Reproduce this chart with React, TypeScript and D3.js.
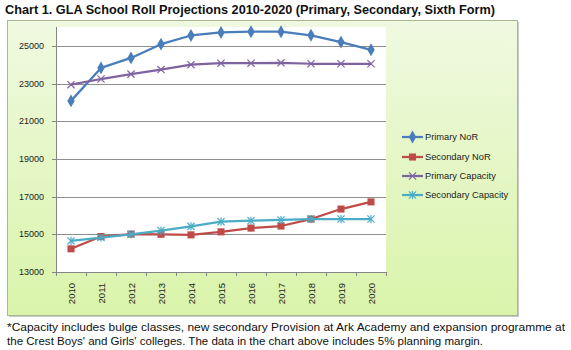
import React from 'react';
import * as d3 from 'd3';

const YEARS = ['2010', '2011', '2012', '2013', '2014', '2015', '2016', '2017', '2018', '2019', '2020'];
const PRIMARY_NOR = [22080, 23830, 24360, 25090, 25550, 25710, 25750, 25750, 25560, 25200, 24790];
const SECONDARY_NOR = [14230, 14880, 15010, 15000, 14970, 15130, 15330, 15440, 15810, 16340, 16720];
const PRIMARY_CAP = [22940, 23240, 23500, 23740, 24000, 24080, 24080, 24100, 24050, 24050, 24050];
const SECONDARY_CAP = [14650, 14830, 15000, 15200, 15420, 15670, 15720, 15760, 15810, 15810, 15810];
const Y_TICKS = [13000, 15000, 17000, 19000, 21000, 23000, 25000];

const TITLE = 'Chart 1. GLA School Roll Projections 2010-2020 (Primary, Secondary, Sixth Form)';
const NOTE_1 = '*Capacity includes bulge classes, new secondary Provision at Ark Academy and expansion programme at';
const NOTE_2 = "the Crest Boys' and Girls' colleges. The data in the chart above includes 5% planning margin.";

type Marker = 'diamond' | 'square' | 'x' | 'star';

const SERIES: Array<{ name: string; values: number[]; color: string; marker: Marker }> = [
  { name: 'Primary NoR', values: PRIMARY_NOR, color: '#4A7EBB', marker: 'diamond' },
  { name: 'Secondary NoR', values: SECONDARY_NOR, color: '#BE4B48', marker: 'square' },
  { name: 'Primary Capacity', values: PRIMARY_CAP, color: '#7F63A1', marker: 'x' },
  { name: 'Secondary Capacity', values: SECONDARY_CAP, color: '#4BACC6', marker: 'star' },
];

const W = 571;
const H = 350;
const plot = { left: 56, right: 386, top: 27, bottom: 272 };
const FONT = 'Liberation Sans, Arial, sans-serif';
const NARROW = 'Liberation Sans Narrow, Arial Narrow, sans-serif';

const diamond = d3.symbol(d3.symbolDiamond, 48)();
const square = d3.symbol(d3.symbolSquare, 50)();

function MarkerShape({ kind, x, y, color }: { kind: Marker; x: number; y: number; color: string }) {
  if (kind === 'diamond') return <path d={diamond as string} transform={`translate(${x},${y})`} fill={color} />;
  if (kind === 'square') return <path d={square as string} transform={`translate(${x},${y})`} fill={color} />;
  const r = 3.6;
  return (
    <g transform={`translate(${x},${y})`} stroke={color} strokeWidth={1.2}>
      <line x1={-r} y1={-r} x2={r} y2={r} />
      <line x1={-r} y1={r} x2={r} y2={-r} />
      {kind === 'star' && <line x1={0} y1={-r - 0.5} x2={0} y2={r + 0.5} />}
    </g>
  );
}

export default function App() {
  const x = d3.scaleBand<string>().domain(YEARS).range([plot.left, plot.right]).padding(0);
  const cx = (yr: string) => (x(yr) as number) + x.bandwidth() / 2;
  const y = d3.scaleLinear().domain([13000, 26000]).range([plot.bottom, plot.top]);

  const line = d3.line<number>()
    .x((_, i) => cx(YEARS[i]))
    .y(v => y(v));

  const boundaries = YEARS.map(yr => x(yr) as number).concat([plot.right]);
  const legendRows = [137, 157, 176, 195];

  return (
    <svg width={W} height={H} style={{ position: 'absolute', left: 0, top: 0, background: '#fff' }}>
      <defs>
        <linearGradient id="area-bg" x1="0" y1="0" x2="0" y2="1">
          <stop offset="0%" stopColor="#F0F9E0" />
          <stop offset="100%" stopColor="#D9F4AA" />
        </linearGradient>
      </defs>

      <text x={5} y={14} fontFamily={NARROW} fontWeight="bold" fontSize={13} fill="#111"
        textLength={490} lengthAdjust="spacingAndGlyphs">{TITLE}</text>

      {/* chart area */}
      <rect x={9} y={22} width={510} height={295} fill="#C8C8C8" />
      <rect x={7.5} y={20.5} width={510} height={295} fill="url(#area-bg)" stroke="#A9B88E" strokeWidth={1} />

      {/* plot area */}
      <rect x={plot.left} y={plot.top} width={plot.right - plot.left} height={plot.bottom - plot.top} fill="#fff" />

      {Y_TICKS.filter(t => t > 13000).map(t => (
        <line key={t} x1={plot.left} x2={plot.right} y1={Math.round(y(t)) + 0.5} y2={Math.round(y(t)) + 0.5} stroke="#8E8E8E" strokeWidth={1} />
      ))}

      {/* axes */}
      <line x1={plot.left + 0.5} x2={plot.left + 0.5} y1={plot.top} y2={plot.bottom} stroke="#868686" />
      <line x1={plot.left} x2={plot.right} y1={plot.bottom + 0.5} y2={plot.bottom + 0.5} stroke="#868686" />
      {Y_TICKS.map(t => (
        <g key={t}>
          <line x1={plot.left - 4} x2={plot.left} y1={Math.round(y(t)) + 0.5} y2={Math.round(y(t)) + 0.5} stroke="#868686" />
          <text x={44} y={y(t)} dy="0.35em" textAnchor="end" fontFamily={FONT} fontSize={9} fill="#222">{t}</text>
        </g>
      ))}
      {boundaries.map((b, i) => (
        <line key={i} x1={Math.round(b) + 0.5} x2={Math.round(b) + 0.5} y1={plot.bottom} y2={plot.bottom + 4} stroke="#868686" />
      ))}
      {YEARS.map(yr => (
        <text key={yr} transform={`translate(${cx(yr) + 3.5},283) rotate(-90)`} textAnchor="end" fontFamily={FONT} fontSize={9.5} fill="#222">{yr}</text>
      ))}

      {/* series */}
      {SERIES.map(s => (
        <g key={s.name}>
          <path d={line(s.values) as string} fill="none" stroke={s.color} strokeWidth={2.25} strokeLinejoin="round" />
          {s.values.map((v, i) => (
            <MarkerShape key={i} kind={s.marker} x={cx(YEARS[i])} y={y(v)} color={s.color} />
          ))}
        </g>
      ))}

      {/* legend */}
      {SERIES.map((s, i) => (
        <g key={s.name} transform={`translate(402,${legendRows[i]})`}>
          <line x1={0} x2={21} y1={0} y2={0} stroke={s.color} strokeWidth={2.25} />
          <MarkerShape kind={s.marker} x={10.5} y={0} color={s.color} />
          <text x={23} y={0} dy="0.35em" fontFamily={FONT} fontSize={9.3} fill="#222">{s.name}</text>
        </g>
      ))}

      {/* footnote */}
      <text x={7} y={331} fontFamily={NARROW} fontSize={11.5} fill="#111" textLength={558} lengthAdjust="spacingAndGlyphs">{NOTE_1}</text>
      <text x={7} y={345} fontFamily={NARROW} fontSize={11.5} fill="#111" textLength={476} lengthAdjust="spacingAndGlyphs">{NOTE_2}</text>
    </svg>
  );
}
